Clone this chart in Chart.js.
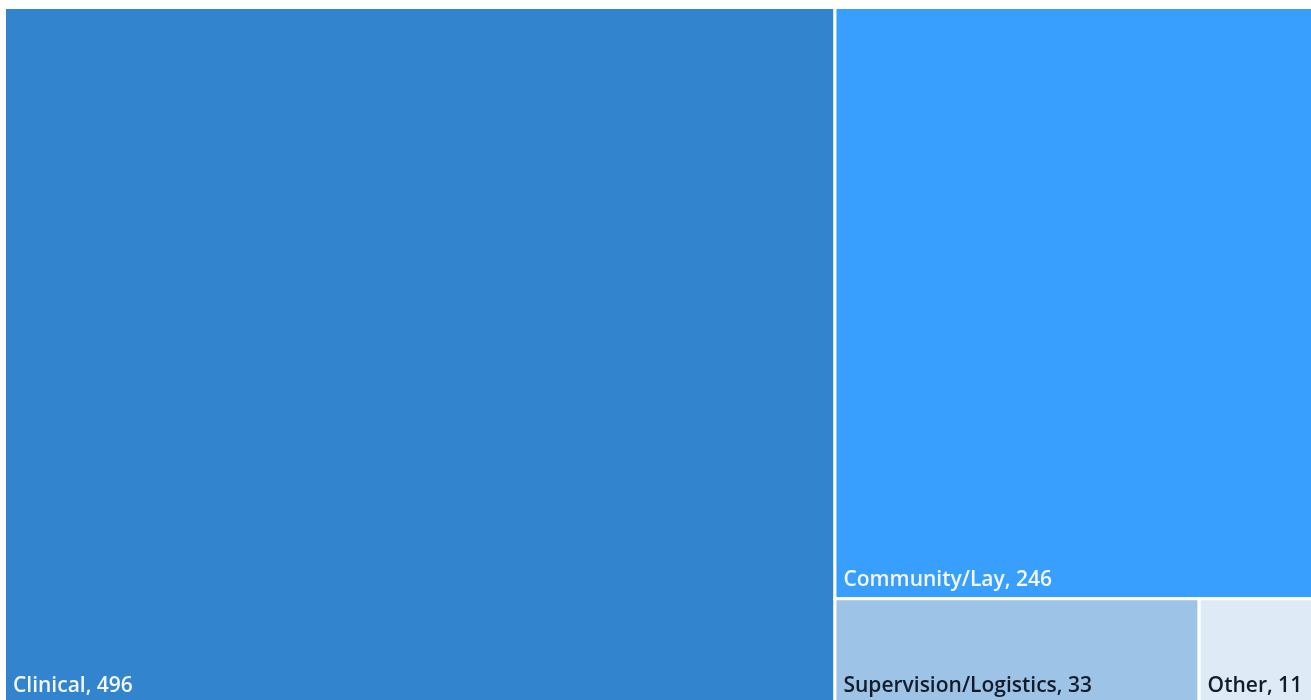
<!DOCTYPE html>
<html>
<head>
<meta charset="utf-8">
<title>Workforce treemap</title>
<script src="https://cdn.jsdelivr.net/npm/chart.js@4.4.1/dist/chart.umd.min.js"></script>
<style>
  html, body { margin: 0; padding: 0; background: #fff; overflow: hidden; }
  #wrap { width: 1322px; height: 706px; }
</style>
</head>
<body>
<div id="wrap"><canvas id="treemap" width="1322" height="706"></canvas></div>
<script>
// categories and counts, largest first
const categories = ['Clinical', 'Community/Lay', 'Supervision/Logistics', 'Other'];
const counts = [496, 246, 33, 11];
const cellColors = ['#3384ce', '#389ffe', '#9dc3e6', '#deebf7'];

// squarified layout in unit space (0..1 on both axes), aspect is width/height in px
function squarify(values, aspect) {
  const total = values.reduce((a, b) => a + b, 0);
  const out = [];
  let rect = { x: 0, y: 0, w: 1, h: 1 };
  let i = 0;
  let remaining = total;

  const worst = (row, side) => {
    const s = row.reduce((a, b) => a + b, 0);
    let w = 0;
    row.forEach(v => {
      const r = (side * side * v) / (s * s);
      w = Math.max(w, r, 1 / r);
    });
    return w;
  };

  while (i < values.length) {
    // work in px-like area units so ratios are right
    const pw = rect.w * aspect, ph = rect.h;
    const side = Math.min(pw, ph);
    const scale = (pw * ph) / remaining;
    let row = [values[i] * scale];
    let j = i + 1;
    while (j < values.length) {
      const next = row.concat(values[j] * scale);
      if (worst(next, side) > worst(row, side)) break;
      row = next;
      j++;
    }
    const rowSum = row.reduce((a, b) => a + b, 0) / scale;
    const frac = rowSum / remaining;
    if (pw >= ph) {
      // vertical strip on the left
      const stripW = rect.w * frac;
      let y = rect.y;
      for (let k = i; k < j; k++) {
        const h = rect.h * values[k] / rowSum;
        out.push({ x: rect.x, y, w: stripW, h });
        y += h;
      }
      rect = { x: rect.x + stripW, y: rect.y, w: rect.w - stripW, h: rect.h };
    } else {
      // horizontal strip on the top
      const stripH = rect.h * frac;
      let x = rect.x;
      for (let k = i; k < j; k++) {
        const w = rect.w * values[k] / rowSum;
        out.push({ x, y: rect.y, w, h: stripH });
        x += w;
      }
      rect = { x: rect.x, y: rect.y + stripH, w: rect.w, h: rect.h - stripH };
    }
    remaining -= rowSum;
    i = j;
  }
  return out;
}

function isLight(hex) {
  const n = parseInt(hex.slice(1), 16);
  const r = n >> 16, g = (n >> 8) & 255, b = n & 255;
  return (0.299 * r + 0.587 * g + 0.114 * b) > 170;
}

const treemapPlugin = {
  id: 'treemapCells',
  afterDatasetsDraw(chart) {
    const { ctx, chartArea, scales } = chart;
    const xs = scales.x, ys = scales.y;
    const aspect = (chartArea.right - chartArea.left) / (chartArea.bottom - chartArea.top);
    const cells = squarify(counts, aspect);

    ctx.save();
    cells.forEach((c, idx) => {
      const left = xs.getPixelForValue(c.x);
      const right = xs.getPixelForValue(c.x + c.w);
      const top = ys.getPixelForValue(c.y);
      const bottom = ys.getPixelForValue(c.y + c.h);

      ctx.fillStyle = cellColors[idx];
      ctx.fillRect(left, top, right - left, bottom - top);
      ctx.strokeStyle = '#ffffff';
      ctx.lineWidth = 3;
      ctx.strokeRect(left, top, right - left, bottom - top);

      // label sits in the lower left corner of each cell
      ctx.fillStyle = isLight(cellColors[idx]) ? '#121c2a' : '#f4f8fc';
      ctx.font = '600 21px "Open Sans", sans-serif';
      ctx.textBaseline = 'alphabetic';
      ctx.textAlign = 'left';
      ctx.fillText(categories[idx] + ', ' + counts[idx], left + 8.5, bottom - 12.5);
    });
    ctx.restore();
  }
};

new Chart(document.getElementById('treemap'), {
  type: 'scatter',
  data: {
    labels: categories,
    datasets: [{ data: [], pointRadius: 0 }]
  },
  options: {
    responsive: false,
    animation: false,
    layout: { padding: { left: 4.5, top: 7.5, right: 1.5, bottom: 1.5 } },
    plugins: { legend: { display: false }, tooltip: { enabled: false } },
    scales: {
      x: { type: 'linear', min: 0, max: 1, display: false },
      y: { type: 'linear', min: 0, max: 1, reverse: true, display: false }
    }
  },
  plugins: [treemapPlugin]
});
</script>
</body>
</html>
